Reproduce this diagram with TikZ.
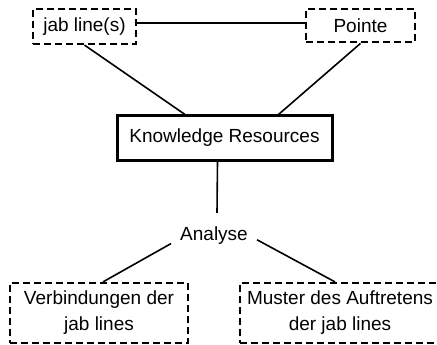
\documentclass[tikz,border=0pt]{standalone}
\usepackage{fontspec}
\setmainfont{Liberation Sans}
\usetikzlibrary{positioning}

\begin{document}
\begin{tikzpicture}[
    x=1pt, y=-1pt,
    font=\fontsize{19}{26}\selectfont,
    topic/.style={rectangle, draw=black, dash pattern=on 7pt off 4pt, line width=2.2pt, inner sep=0pt, align=center},
    hub/.style={rectangle, draw=black, line width=3pt, inner sep=0pt},
    link/.style={line width=1.6pt, color=black}
]
    \useasboundingbox (0,0) rectangle (437,345);

    \node[topic, minimum width=103pt, minimum height=35pt] (jab) at (84.5,26.5) {jab line(s)};
    \node[topic, line width=2.8pt, minimum width=109pt, minimum height=33pt] (pointe) at (360.5,25.5) {Pointe};

    \node[hub, minimum width=215pt, minimum height=44pt] (kr) at (224.5,138) {Knowledge Resources};

    \node[inner xsep=9pt, inner ysep=14pt] (analyse) at (214,236) {Analyse};

    \node[topic, minimum width=178pt, minimum height=60pt] (verb) at (99,313) {Verbindungen der\\jab lines};
    \node[topic, minimum width=200pt, minimum height=60pt] (muster) at (340,313) {Muster des Auftretens\\der jab lines};

    \draw[link] ([yshift=3.5pt]jab.east) -- ([yshift=2.5pt]pointe.west);
    \draw[link] (jab.south) -- ([xshift=-39.5pt]kr.north);
    \draw[link] (pointe.south) -- ([xshift=54pt]kr.north);

    \draw[link] ([xshift=-7pt]kr.south) -- ([xshift=3pt]analyse.north);

    \draw[link] (analyse.190) -- ([xshift=4pt]verb.north);
    \draw[link] (analyse.-5) -- ([xshift=-5pt]muster.north);
\end{tikzpicture}
\end{document}
